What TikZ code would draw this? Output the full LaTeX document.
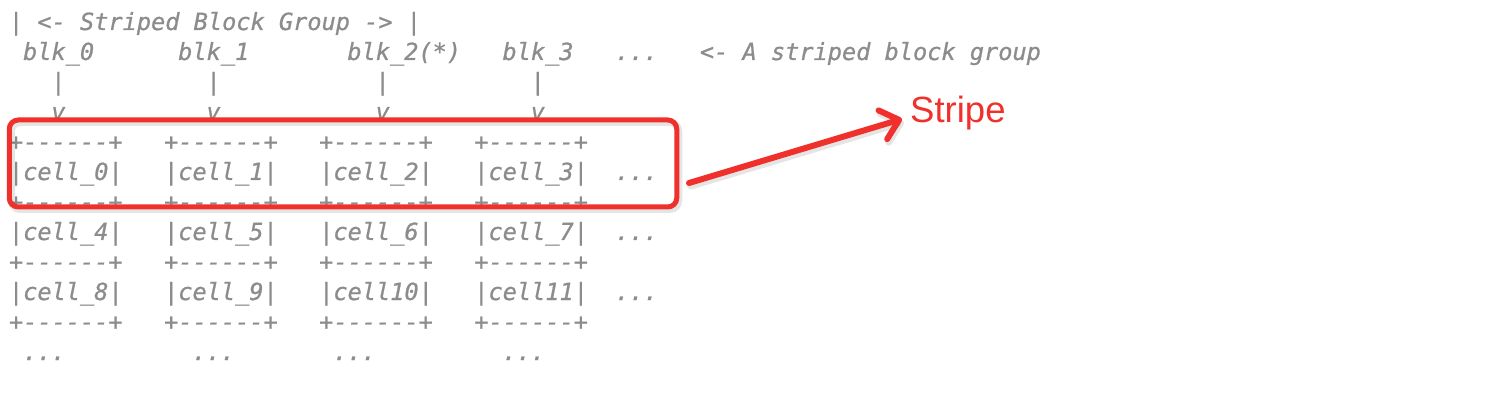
\documentclass[tikz,border=0pt]{standalone}
\usepackage{fontspec}
\newfontfamily\asc{DejaVu Sans Mono}[ItalicFont={DejaVu Sans Mono Oblique},ItalicFeatures={FakeBold=0.8}]
\newfontfamily\lab{Liberation Sans}
\usetikzlibrary{arrows.meta}
\definecolor{ascgray}{HTML}{8C8C8C}
\definecolor{markred}{HTML}{F0302A}
\newcommand\tok[4]{\node[txt] (#1) at ({9+14.1*#2},{30+30*#3}) {#4};}
\begin{document}
\begin{tikzpicture}[x=1pt,y=-1pt,
  txt/.style={anchor=base west, inner sep=0pt, outer sep=0pt, text=ascgray,
    font=\asc\itshape\fontsize{23.6}{28}\selectfont},
  stripebox/.style={draw=markred, line width=5pt, rounded corners=9pt,
    minimum width=667.5pt, minimum height=87pt, inner sep=0pt},
  shadowbox/.style={draw=black, draw opacity=0.10, line width=7pt, rounded corners=9pt,
    minimum width=667.5pt, minimum height=87pt, inner sep=0pt},
  redarrow/.style={draw=markred, line width=6pt, line cap=round,
    -{Straight Barb[length=17pt,width=30pt,round]}},
  shadowarrow/.style={draw=black, draw opacity=0.10, line width=7pt, line cap=round,
    -{Straight Barb[length=17pt,width=30pt,round]}},
  stripelabel/.style={anchor=base west, inner sep=0pt, text=markred,
    font=\lab\fontsize{36.5}{40}\selectfont}
]
\useasboundingbox (0,0) rectangle (1504,414);
% line 0
\tok{title}{0}{0}{| <- Striped Block Group -> |}
% line 1
\tok{blk0}{1}{1}{blk\_0}
\tok{blk1}{12}{1}{blk\_1}
\tok{blk2}{24}{1}{blk\_2(*)}
\tok{blk3}{35}{1}{blk\_3}
\tok{blkdots}{43}{1}{...}
\tok{note}{49}{1}{<- A striped block group}
% line 2
\tok{bar0}{3}{2}{|}
\tok{bar1}{14}{2}{|}
\tok{bar2}{26}{2}{|}
\tok{bar3}{37}{2}{|}
% line 3
\tok{vee0}{3}{3}{v}
\tok{vee1}{14}{3}{v}
\tok{vee2}{26}{3}{v}
\tok{vee3}{37}{3}{v}
% line 4
\tok{sepA0}{0}{4}{+------+}
\tok{sepA1}{11}{4}{+------+}
\tok{sepA2}{22}{4}{+------+}
\tok{sepA3}{33}{4}{+------+}
% line 5
\tok{cell0}{0}{5}{|cell\_0|}
\tok{cell1}{11}{5}{|cell\_1|}
\tok{cell2}{22}{5}{|cell\_2|}
\tok{cell3}{33}{5}{|cell\_3|}
\tok{rowdotsA}{43}{5}{...}
% line 6
\tok{sepB0}{0}{6}{+------+}
\tok{sepB1}{11}{6}{+------+}
\tok{sepB2}{22}{6}{+------+}
\tok{sepB3}{33}{6}{+------+}
% line 7
\tok{cell4}{0}{7}{|cell\_4|}
\tok{cell5}{11}{7}{|cell\_5|}
\tok{cell6}{22}{7}{|cell\_6|}
\tok{cell7}{33}{7}{|cell\_7|}
\tok{rowdotsB}{43}{7}{...}
% line 8
\tok{sepC0}{0}{8}{+------+}
\tok{sepC1}{11}{8}{+------+}
\tok{sepC2}{22}{8}{+------+}
\tok{sepC3}{33}{8}{+------+}
% line 9
\tok{cell8}{0}{9}{|cell\_8|}
\tok{cell9}{11}{9}{|cell\_9|}
\tok{cell10}{22}{9}{|cell10|}
\tok{cell11}{33}{9}{|cell11|}
\tok{rowdotsC}{43}{9}{...}
% line 10
\tok{sepD0}{0}{10}{+------+}
\tok{sepD1}{11}{10}{+------+}
\tok{sepD2}{22}{10}{+------+}
\tok{sepD3}{33}{10}{+------+}
% line 11
\tok{coldots0}{1}{11}{...}
\tok{coldots1}{13}{11}{...}
\tok{coldots2}{23}{11}{...}
\tok{coldots3}{35}{11}{...}
% stripe box and arrow
\node[shadowbox] (boxshadow) at (345,166) {};
\node[stripebox] (stripebox) at (343,163.5) {};
\node[stripelabel] (stripe) at (910,123) {Stripe};
\coordinate (arrS) at (689,183);
\coordinate (arrE) at (902,119);
\coordinate (arrSs) at (691,186);
\coordinate (arrEs) at (904,122);
\draw[shadowarrow] (arrSs) -- (arrEs);
\draw[redarrow] (arrS) -- (arrE);
\end{tikzpicture}
\end{document}
